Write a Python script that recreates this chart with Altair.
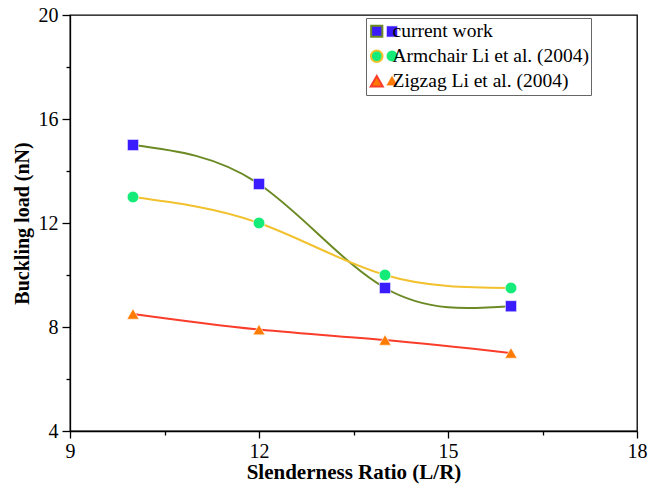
import altair as alt
import pandas as pd

# ---- data ----
x_vals = [10, 12, 14, 16]
series_names = ["current work", "Armchair Li et al. (2004)", "Zigzag Li et al. (2004)"]
current_work = [15.0, 13.5, 9.5, 8.8]
armchair = [13.0, 12.0, 10.0, 9.5]
zigzag = [8.5, 7.9, 7.5, 7.0]

line_colors = ["#6b8a24", "#f2c12e", "#fa3c2a"]
marker_colors = ["#3a1cff", "#14eb78", "#ff7a00"]
marker_shapes = ["square", "circle", "triangle-up"]
marker_sizes = [125, 145, 190]

x_ticks = [9, 10.5, 12, 13.5, 15, 16.5, 18]
y_ticks = [4, 6, 8, 10, 12, 14, 16, 18, 20]

rows = []
for name, vals in zip(series_names, [current_work, armchair, zigzag]):
    for xv, yv in zip(x_vals, vals):
        rows.append({"x": xv, "y": yv, "series": name, "series_m": name})
df = pd.DataFrame(rows)
legend_df = pd.DataFrame({"series_m": series_names})

FONT = "'Liberation Serif', 'Times New Roman', Times, serif"

x_enc = alt.X(
    "x:Q",
    scale=alt.Scale(domain=[9, 18], nice=False, zero=False),
    axis=alt.Axis(
        values=x_ticks,
        labelExpr="datum.value % 3 == 0 ? datum.label : ''",
        tickSize={"condition": {"test": "datum.value % 3 == 0", "value": 7}, "value": 4},
        title="Slenderness Ratio (L/R)",
        titleFontSize=21,
        grid=False,
        labelFlush=False,
        labelOverlap=False,
        labelPadding=3,
        titlePadding=0,
    ),
)
y_enc = alt.Y(
    "y:Q",
    scale=alt.Scale(domain=[4, 20], nice=False, zero=False),
    axis=alt.Axis(
        values=y_ticks,
        labelExpr="datum.value % 4 == 0 ? datum.label : ''",
        tickSize={"condition": {"test": "datum.value % 4 == 0", "value": 8}, "value": 4},
        title="Buckling load (nN)",
        titleFontSize=20,
        grid=False,
        labelFlush=False,
        labelOverlap=False,
        labelPadding=4,
        titlePadding=6,
    ),
)

legend_lines = alt.Legend(
    title=None,
    orient="none",
    legendX=296,
    legendY=3,
    symbolType="stroke",
    symbolSize=2025,
    symbolStrokeWidth=2,
    clipHeight=24.5,
    rowPadding=0,
    padding=1,
    labelFont=FONT,
    labelFontSize=19.5,
    labelColor="black",
    labelOffset=6,
    labelLimit=400,
    strokeColor="#666666",
)

fill_enc = alt.Fill("series_m:N", scale=alt.Scale(domain=series_names, range=marker_colors), legend=None)
shape_enc = alt.Shape("series_m:N", scale=alt.Scale(domain=series_names, range=marker_shapes), legend=None)
size_enc = alt.Size("series_m:N", scale=alt.Scale(domain=series_names, range=marker_sizes), legend=None)

lines = alt.Chart(df).mark_line(interpolate="natural", strokeWidth=2).encode(
    x=x_enc,
    y=y_enc,
    stroke=alt.Stroke(
        "series:N",
        scale=alt.Scale(domain=series_names, range=line_colors),
        legend=legend_lines,
    ),
)

points = alt.Chart(df).mark_point(
    filled=True, opacity=1, stroke="white", strokeWidth=0.6
).encode(x=x_enc, y=y_enc, fill=fill_enc, shape=shape_enc, size=size_enc)

# markers placed on the legend's line samples (one per legend row)
legend_markers = alt.Chart(legend_df).mark_point(
    filled=True, opacity=1, stroke="white", strokeWidth=0.6
).encode(
    x=alt.value(322),
    y=alt.Y(
        "series_m:N",
        scale=alt.Scale(type="point", domain=series_names, range=[16.5, 65.5], padding=0),
        axis=None,
    ),
    fill=fill_enc,
    shape=shape_enc,
    size=size_enc,
)

chart = (
    alt.layer(alt.layer(lines, points), legend_markers)
    .resolve_scale(y="independent")
    .properties(
        width=567,
        height=416,
        autosize=alt.AutoSizeParams(type="none"),
        padding={"left": 62, "top": 7, "right": 12, "bottom": 58},
    )
    .configure_view(stroke="black", strokeWidth=1.3)
    .configure_axis(
        domainColor="black",
        domainWidth=1.3,
        tickColor="black",
        tickWidth=1.3,
        labelFont=FONT,
        labelFontSize=20,
        labelColor="black",
        titleFont=FONT,
        titleFontWeight="bold",
        titleColor="black",
    )
)

chart.save("out.html", embed_options={"renderer": "svg", "actions": False})
